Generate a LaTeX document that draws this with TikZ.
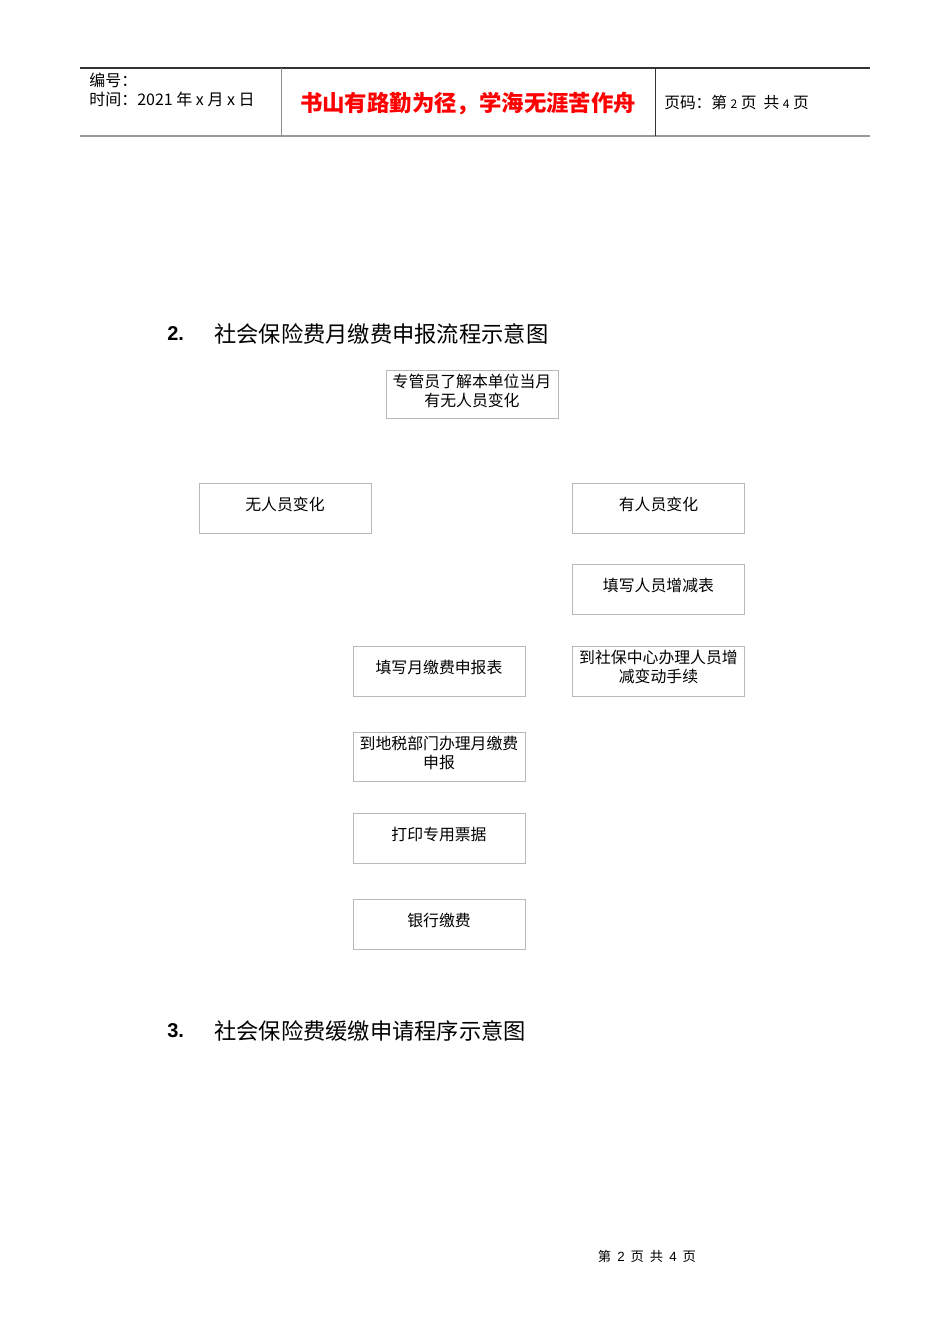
\documentclass[tikz,border=0pt]{standalone}
\usepackage{fontspec}
\setmainfont{Noto Sans CJK SC}
\newfontfamily\latn{Liberation Sans}
\usetikzlibrary{positioning}

\tikzset{
  blk/.style={draw=gray!55,line width=0.6pt,minimum width=172*0.75pt,minimum height=50*0.75pt,outer sep=0pt,inner sep=0pt},
  txt/.style={yshift=-21*0.75pt,align=center,inner sep=0pt,font=\fontsize{11.9}{13.6}\selectfont},
  hdg/.style={anchor=west,inner sep=0pt,font=\fontsize{16.7}{18}\selectfont}
}

\begin{document}
\begin{tikzpicture}[x=0.75pt,y=-0.75pt]
\useasboundingbox (0,0) rectangle (950,1344);
% header
\coordinate (tl) at (80,68);
\coordinate (tr) at (870,68);
\coordinate (bl) at (80,136);
\coordinate (br) at (870,136);
\draw[line width=0.8pt,black!80] (tl) -- (tr);
\draw[line width=1.5pt,gray!80] (bl) -- (br);
\draw[line width=0.7pt,gray!90] (281,68) coordinate (v1) -- (281,136) coordinate (v1b);
\draw[line width=0.7pt,black!80] (655,68) coordinate (v2) -- (655,136) coordinate (v2b);
\node[anchor=west,inner sep=0pt,font=\fontsize{12}{14}\selectfont] (no) at (89,80) {编号：};
\node[anchor=west,inner sep=0pt,font=\fontsize{12}{14}\selectfont] (date) at (89,99) {时间：2021 年 x 月 x 日};
\node[inner sep=0pt,text=red,font=\fontsize{16.8}{18}\selectfont\bfseries] (motto) at (468,104) {书山有路勤为径，学海无涯苦作舟};
\node[anchor=west,inner sep=0pt,font=\fontsize{11.8}{14}\selectfont] (pg) at (664,103) {页码：第 {\fontsize{9}{10}\selectfont 2} 页\ \ 共 {\fontsize{9}{10}\selectfont 4} 页};

% section 2
\node[hdg,font=\latn\fontsize{15}{18}\selectfont\bfseries] (n2) at (167,334) {2.};
\node[hdg] (h2) at (214,334) {社会保险费月缴费申报流程示意图};

\node[blk,minimum height=48*0.75pt] (know) at (472,394) {};
\node at(know.north)[txt](tknow){专管员了解本单位当月\\有无人员变化};

\node[blk] (nochg) at (285,508) {};
\node at(nochg.north)[txt](tnochg){无人员变化};
\node[blk] (chg) at (658.5,508) {};
\node at(chg.north)[txt](tchg){有人员变化};
\node[blk] (form) at (658.5,589) {};
\node at(form.north)[txt](tform){填写人员增减表};
\node[blk] (ssc) at (658.5,671) {};
\node at(ssc.north)[txt](tssc){到社保中心办理人员增\\减变动手续};
\node[blk] (decl) at (439,671) {};
\node at(decl.north)[txt](tdecl){填写月缴费申报表};
\node[blk,minimum height=49*0.75pt] (tax) at (439,756.5) {};
\node at(tax.north)[txt](ttax){到地税部门办理月缴费\\申报};
\node[blk] (print) at (439,838) {};
\node at(print.north)[txt](tprint){打印专用票据};
\node[blk] (bank) at (439,924) {};
\node at(bank.north)[txt](tbank){银行缴费};

% section 3
\node[hdg,font=\latn\fontsize{15}{18}\selectfont\bfseries] (n3) at (167,1031) {3.};
\node[hdg] (h3) at (214,1031) {社会保险费缓缴申请程序示意图};

% footer
\node[inner sep=0pt,font=\fontsize{10}{12}\selectfont] (foot) at (647,1256) {第\ \ {\latn 2}\ \ 页\ \ 共\ \ {\latn 4}\ \ 页};
\end{tikzpicture}
\end{document}
